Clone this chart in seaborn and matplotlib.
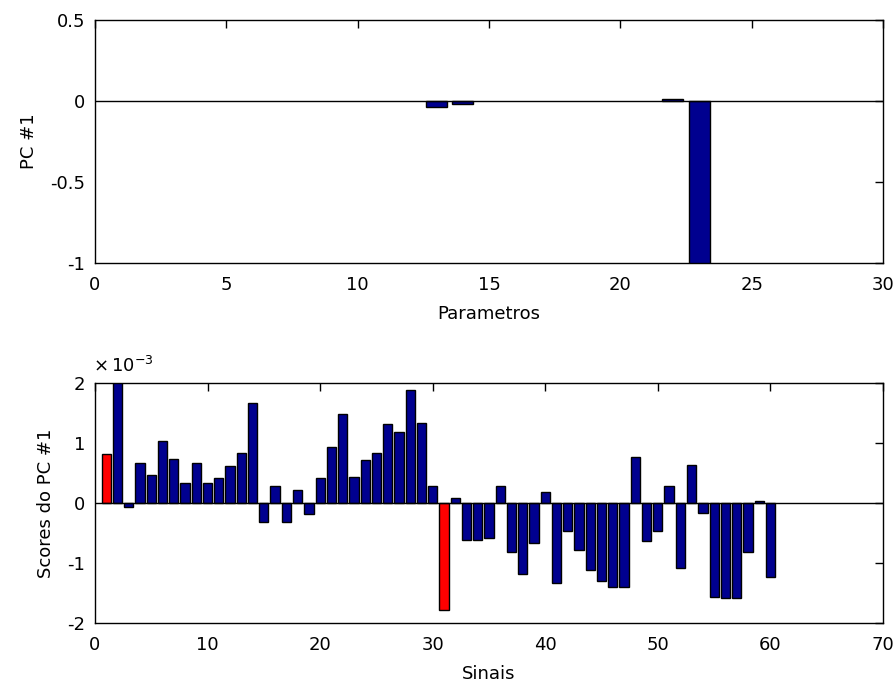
import numpy as np
import pandas as pd
import matplotlib
matplotlib.use("Agg")
import matplotlib.pyplot as plt
import seaborn as sns

# --- data ---
param_idx = list(range(1, 30))
pc1_loadings = [0.0] * 29
pc1_loadings[12] = -0.038   # param 13
pc1_loadings[13] = -0.017   # param 14
pc1_loadings[21] = 0.012    # param 22
pc1_loadings[22] = -1.02    # param 23

sinal_idx = list(range(1, 61))
scores_e3 = [0.81, 2.10, -0.06, 0.67, 0.46, 1.04, 0.73, 0.33, 0.67, 0.33,
             0.41, 0.62, 0.83, 1.67, -0.31, 0.28, -0.31, 0.22, -0.18, 0.41,
             0.94, 1.49, 0.43, 0.71, 0.83, 1.31, 1.18, 1.88, 1.34, 0.28,
             -1.79, 0.09, -0.61, -0.61, -0.58, 0.28, -0.82, -1.18, -0.67, 0.18,
             -1.33, -0.46, -0.79, -1.12, -1.30, -1.40, -1.40, 0.76, -0.64, -0.46,
             0.28, -1.09, 0.64, -0.16, -1.56, -1.58, -1.58, -0.82, 0.04, -1.24]
red_sinais = [1, 31]

NAVY = "#00008F"
RED = "#FF0000"
FS = 13

sns.set_style("white")
plt.rcParams["font.family"] = ["DejaVu Sans"]
plt.rcParams["font.size"] = FS
plt.rcParams["text.color"] = "black"
plt.rcParams["axes.labelcolor"] = "black"
plt.rcParams["xtick.color"] = "black"
plt.rcParams["ytick.color"] = "black"

df_top = pd.DataFrame({"param": param_idx, "pc1": pc1_loadings})
df_bot = pd.DataFrame({"sinal": sinal_idx, "score": scores_e3})
df_bot["grupo"] = np.where(df_bot["sinal"].isin(red_sinais), "red", "navy")

fig = plt.figure(figsize=(8.95, 6.91), dpi=100)
W, H = 895, 691
ax1 = fig.add_axes([95 / W, 1 - 263 / H, 788 / W, 243 / H])
ax2 = fig.add_axes([95 / W, 1 - 623 / H, 788 / W, 240 / H])

sns.barplot(data=df_top, x="param", y="pc1", native_scale=True, width=0.8,
            color=NAVY, saturation=1, edgecolor="black", linewidth=1, ax=ax1)
sns.barplot(data=df_bot, x="sinal", y="score", hue="grupo", native_scale=True,
            dodge=False, width=0.82, palette={"navy": NAVY, "red": RED},
            saturation=1, edgecolor="black", linewidth=1, legend=False, ax=ax2)

ax1.set_xlim(0, 30)
ax1.set_ylim(-1, 0.5)
ax1.set_xticks(range(0, 31, 5))
ax1.set_yticks([-1, -0.5, 0, 0.5])
ax1.set_yticklabels(["-1", "-0.5", "0", "0.5"])
ax1.set_xlabel("Parametros", labelpad=8)
ax1.set_ylabel("PC #1", labelpad=9)

ax2.set_xlim(0, 70)
ax2.set_ylim(-2, 2)
ax2.set_xticks(range(0, 71, 10))
ax2.set_yticks([-2, -1, 0, 1, 2])
ax2.set_yticklabels(["-2", "-1", "0", "1", "2"])
ax2.set_xlabel("Sinais", labelpad=8)
ax2.set_ylabel("Scores do PC #1", labelpad=9)
ax2.text(-0.003, 1.03, r"$\times\,10^{-3}$", transform=ax2.transAxes,
         ha="left", va="bottom", fontsize=FS)

for ax in (ax1, ax2):
    # zero-height bars are invisible in the original
    for p in ax.patches:
        if p.get_height() == 0:
            p.set_visible(False)
    ax.axhline(0, color="black", lw=1, zorder=3)
    ax.tick_params(direction="in", top=True, right=True, length=6,
                   width=1, labelsize=FS)
    ax.tick_params(axis="x", pad=9)
    ax.tick_params(axis="y", pad=7)
    for sp in ax.spines.values():
        sp.set_color("black")
        sp.set_linewidth(1)
        sp.set_visible(True)

fig.savefig("out.png", dpi=100)
